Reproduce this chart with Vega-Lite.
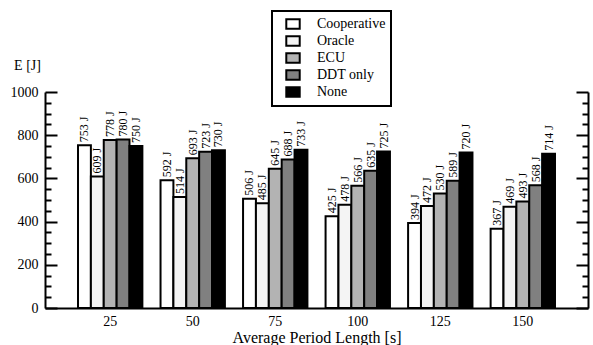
{
  "$schema": "https://vega.github.io/schema/vega-lite/v6.json",
  "width": 543,
  "height": 216,
  "autosize": {"type": "none"},
  "padding": {"left": 45, "top": 92, "right": 5, "bottom": 37},
  "config": {
    "view": {"stroke": null},
    "font": "Liberation Serif",
    "text": {"font": "Liberation Serif"},
    "axis": {"grid": false, "domainColor": "black", "domainWidth": 2, "tickColor": "black", "labelColor": "black", "titleColor": "black", "labelFont": "Liberation Serif", "titleFont": "Liberation Serif", "titleFontWeight": "normal"},
    "legend": {"labelFont": "Liberation Serif"}
  },
  "data": {
    "values": [
      {"period": 25, "series": "Cooperative", "value": 753},
      {"period": 25, "series": "Oracle", "value": 609},
      {"period": 25, "series": "ECU", "value": 778},
      {"period": 25, "series": "DDT only", "value": 780},
      {"period": 25, "series": "None", "value": 750},
      {"period": 50, "series": "Cooperative", "value": 592},
      {"period": 50, "series": "Oracle", "value": 514},
      {"period": 50, "series": "ECU", "value": 693},
      {"period": 50, "series": "DDT only", "value": 723},
      {"period": 50, "series": "None", "value": 730},
      {"period": 75, "series": "Cooperative", "value": 506},
      {"period": 75, "series": "Oracle", "value": 485},
      {"period": 75, "series": "ECU", "value": 645},
      {"period": 75, "series": "DDT only", "value": 688},
      {"period": 75, "series": "None", "value": 733},
      {"period": 100, "series": "Cooperative", "value": 425},
      {"period": 100, "series": "Oracle", "value": 478},
      {"period": 100, "series": "ECU", "value": 566},
      {"period": 100, "series": "DDT only", "value": 635},
      {"period": 100, "series": "None", "value": 725},
      {"period": 125, "series": "Cooperative", "value": 394},
      {"period": 125, "series": "Oracle", "value": 472},
      {"period": 125, "series": "ECU", "value": 530},
      {"period": 125, "series": "DDT only", "value": 589},
      {"period": 125, "series": "None", "value": 720},
      {"period": 150, "series": "Cooperative", "value": 367},
      {"period": 150, "series": "Oracle", "value": 469},
      {"period": 150, "series": "ECU", "value": 493},
      {"period": 150, "series": "DDT only", "value": 568},
      {"period": 150, "series": "None", "value": 714}
    ]
  },
  "encoding": {
    "x": {
      "field": "period", "type": "ordinal",
      "scale": {"paddingInner": 0.22, "paddingOuter": 0.4},
      "axis": {"title": "Average Period Length [s]", "labelAngle": 0, "ticks": false, "labelPadding": 6, "labelFontSize": 14, "titleFontSize": 16, "titlePadding": 1}
    },
    "xOffset": {
      "field": "series", "type": "nominal",
      "sort": ["Cooperative", "Oracle", "ECU", "DDT only", "None"],
      "scale": {"paddingInner": 0, "paddingOuter": 0}
    }
  },
  "layer": [
    {
      "mark": {"type": "bar", "stroke": "black", "strokeWidth": 2},
      "encoding": {
        "y": {
          "field": "value", "type": "quantitative",
          "scale": {"domain": [0, 1000], "nice": false},
          "axis": {
            "values": [0, 50, 100, 150, 200, 250, 300, 350, 400, 450, 500, 550, 600, 650, 700, 750, 800, 850, 900, 950, 1000],
            "format": "d",
            "labelExpr": "datum.value % 200 === 0 ? datum.label : ''",
            "tickSize": {"condition": {"test": "datum.value % 200 === 0", "value": -12}, "value": -6},
            "tickWidth": 2,
            "labelPadding": 19,
            "labelFontSize": 14,
            "title": "E [J]",
            "titleAngle": 0,
            "titleFontSize": 14,
            "titleAlign": "center",
            "titleBaseline": "middle",
            "titleX": -18,
            "titleY": -27
          }
        },
        "color": {
          "field": "series", "type": "nominal",
          "sort": ["Cooperative", "Oracle", "ECU", "DDT only", "None"],
          "scale": {"domain": ["Cooperative", "Oracle", "ECU", "DDT only", "None"], "range": ["#ffffff", "#f4f4f4", "#b3b3b3", "#808080", "#000000"]},
          "legend": {
            "title": null,
            "orient": "none",
            "legendX": 227,
            "legendY": -81,
            "strokeColor": "black",
            "padding": 5,
            "symbolOffset": 8,
            "symbolType": "M-1,-0.72L1,-0.72L1,0.72L-1,0.72Z",
            "symbolSize": 180,
            "symbolStrokeColor": "black",
            "symbolStrokeWidth": 2,
            "labelFontSize": 14,
            "labelOffset": 16,
            "rowPadding": -1.5,
            "labelColor": "black",
            "encode": {"legend": {"update": {"strokeWidth": {"value": 2}}}, "symbols": {"update": {"opacity": {"value": 1}}}}
          }
        }
      }
    },
    {
      "transform": [{"calculate": "datum.value + ' J'", "as": "label"}],
      "mark": {"type": "text", "angle": 270, "align": "left", "baseline": "middle", "dx": 3, "fontSize": 12, "font": "Liberation Serif", "color": "black"},
      "encoding": {
        "y": {
          "field": "value", "type": "quantitative",
          "axis": {
            "orient": "right",
            "title": null,
            "values": [0, 50, 100, 150, 200, 250, 300, 350, 400, 450, 500, 550, 600, 650, 700, 750, 800, 850, 900, 950, 1000],
            "labels": false,
            "tickSize": {"condition": {"test": "datum.value % 200 === 0", "value": -12}, "value": -6},
            "tickWidth": 2
          }
        },
        "text": {"field": "label", "type": "nominal"}
      }
    }
  ],
  "resolve": {"axis": {"y": "independent"}}
}
